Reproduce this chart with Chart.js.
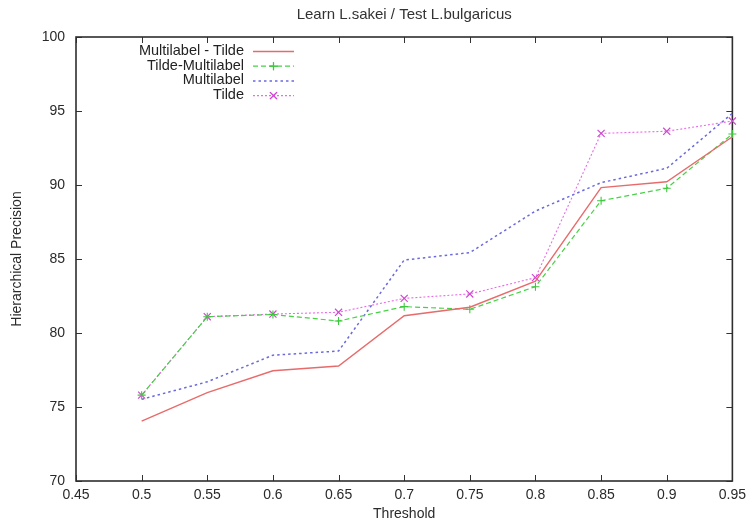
<!DOCTYPE html>
<html>
<head>
<meta charset="utf-8">
<title>Learn L.sakei / Test L.bulgaricus</title>
<script src="https://cdn.jsdelivr.net/npm/chart.js@4.4.1/dist/chart.umd.min.js"></script>
<style>
  html, body { margin:0; padding:0; background:#fff; }
  canvas { display:block; }
</style>
</head>
<body>
<canvas id="myChartPrecision" width="752" height="523"></canvas>
<script>
// values
const thresholds = [0.5, 0.55, 0.6, 0.65, 0.7, 0.75, 0.8, 0.85, 0.9, 0.95];
const multilabelTilde = [74.05, 75.97, 77.45, 77.77, 81.17, 81.74, 83.5, 89.82, 90.22, 93.26];
const tildeMultilabel = [75.8, 81.1, 81.25, 80.81, 81.78, 81.6, 83.13, 88.94, 89.78, 93.45];
const multilabel = [75.52, 76.7, 78.5, 78.78, 84.93, 85.43, 88.24, 90.16, 91.13, 94.84];
const tilde = [75.8, 81.1, 81.28, 81.4, 82.34, 82.64, 83.74, 93.49, 93.63, 94.32];
const seriesNames = ['Multilabel - Tilde', 'Tilde-Multilabel', 'Multilabel', 'Tilde'];
const xTickLabels = ['0.45', '0.5', '0.55', '0.6', '0.65', '0.7', '0.75', '0.8', '0.85', '0.9', '0.95'];
const yTickLabels = ['70', '75', '80', '85', '90', '95', '100'];
const chartTitle = 'Learn L.sakei / Test L.bulgaricus';

Chart.defaults.font.family = '"Liberation Sans", Arial, Helvetica, sans-serif';
Chart.defaults.font.size = 14;
Chart.defaults.color = '#2a2a2a';

function toPoints(values){
  return thresholds.map((t, i) => ({x: t, y: values[i]}));
}

const data = {
  datasets: [{
    label: seriesNames[0],
    data: toPoints(multilabelTilde),
    borderColor: '#e86b6b',
    borderWidth: 1.4,
    pointRadius: 0,
  },{
    label: seriesNames[1],
    data: toPoints(tildeMultilabel),
    borderColor: '#45d245',
    borderWidth: 1.2,
    borderDash: [5, 3],
    pointStyle: 'cross',
    pointRadius: 4,
    pointBorderWidth: 1.1,
    pointBorderColor: '#3cc83c',
  },{
    label: seriesNames[2],
    data: toPoints(multilabel),
    borderColor: '#6a6ade',
    borderWidth: 1.5,
    borderDash: [2.5, 3],
    pointRadius: 0,
  },{
    label: seriesNames[3],
    data: toPoints(tilde),
    borderColor: '#ea6aea',
    borderWidth: 1.1,
    borderDash: [2, 2],
    pointStyle: 'crossRot',
    pointRadius: 5,
    pointBorderWidth: 1.2,
    pointBorderColor: '#cf48cf',
  }]
};

// frame, inward ticks, title and key the way gnuplot draws them
const gnuplotLook = {
  id: 'gnuplotLook',
  beforeDatasetsDraw(chart) {
    const { ctx, chartArea: { top, bottom, left, right }, scales: { x, y } } = chart;
    const tickLen = 6;
    ctx.save();
    ctx.strokeStyle = '#333';
    ctx.lineWidth = 1;
    ctx.beginPath();
    x.ticks.forEach(t => {
      const px = Math.round(x.getPixelForValue(t.value)) + 0.5;
      ctx.moveTo(px, bottom); ctx.lineTo(px, bottom - tickLen);
      ctx.moveTo(px, top); ctx.lineTo(px, top + tickLen);
    });
    y.ticks.forEach(t => {
      const py = Math.round(y.getPixelForValue(t.value)) + 0.5;
      ctx.moveTo(left, py); ctx.lineTo(left + tickLen, py);
      ctx.moveTo(right, py); ctx.lineTo(right - tickLen, py);
    });
    ctx.stroke();
    ctx.lineWidth = 1.6;
    ctx.strokeStyle = '#2e2e2e';
    ctx.strokeRect(left, top, right - left, bottom - top);
    ctx.restore();
  },
  afterDraw(chart) {
    const { ctx, chartArea: { left, right } } = chart;
    ctx.save();
    ctx.font = '15px "Liberation Sans", Arial, sans-serif';
    ctx.fillStyle = '#333';
    ctx.textAlign = 'center';
    ctx.textBaseline = 'middle';
    ctx.fillText(chartTitle, (left + right) / 2, 15);

    // key
    ctx.font = '14.5px "Liberation Sans", Arial, sans-serif';
    const textRight = 244, lineStart = 253, lineEnd = 294;
    chart.data.datasets.forEach((ds, i) => {
      const yRow = 51 + i * 14.7;
      ctx.textAlign = 'right';
      ctx.fillStyle = '#222';
      ctx.fillText(ds.label, textRight, yRow);
      ctx.beginPath();
      ctx.strokeStyle = ds.borderColor;
      ctx.lineWidth = ds.borderWidth;
      ctx.setLineDash(ds.borderDash || []);
      ctx.moveTo(lineStart, yRow + 0.5);
      ctx.lineTo(lineEnd, yRow + 0.5);
      ctx.stroke();
      ctx.setLineDash([]);
      if (ds.pointRadius > 0) {
        Chart.helpers.drawPoint(ctx, {
          pointStyle: ds.pointStyle,
          radius: ds.pointRadius,
          borderWidth: ds.pointBorderWidth,
          rotation: 0
        }, (lineStart + lineEnd) / 2, yRow + 0.5);
        ctx.strokeStyle = ds.pointBorderColor;
        ctx.lineWidth = ds.pointBorderWidth;
        ctx.stroke();
      }
    });
    ctx.restore();
  }
};

const config = {
  type: 'line',
  data,
  options: {
    responsive: false,
    animation: false,
    layout: { padding: { top: 37, right: 19, left: 0, bottom: 0 } },
    elements: { line: { tension: 0, fill: false }, point: { hitRadius: 4 } },
    clip: false,
    scales: {
      x: {
        type: 'linear',
        min: 0.45,
        max: 0.95,
        afterFit: (scale) => { scale.height = 42; },
        border: { display: false },
        grid: { drawOnChartArea: false, drawTicks: false },
        ticks: {
          stepSize: 0.05,
          padding: 6,
          maxRotation: 0,
          autoSkip: false,
          callback: (v, i) => xTickLabels[i]
        },
        title: { display: true, text: 'Threshold', padding: { top: 0, bottom: 0 } }
      },
      y: {
        min: 70,
        max: 100,
        afterFit: (scale) => { scale.width = 76; },
        border: { display: false },
        grid: { drawOnChartArea: false, drawTicks: false },
        ticks: {
          stepSize: 5,
          padding: 11,
          callback: (v, i) => yTickLabels[i]
        },
        title: { display: true, text: 'Hierarchical Precision', padding: { top: 9, bottom: 0 } }
      }
    },
    plugins: {
      legend: { display: false },
      title: { display: false },
      tooltip: { enabled: true }
    }
  },
  plugins: [gnuplotLook]
};

const precisionChart = new Chart(
  document.getElementById('myChartPrecision'),
  config
);
</script>
</body>
</html>
